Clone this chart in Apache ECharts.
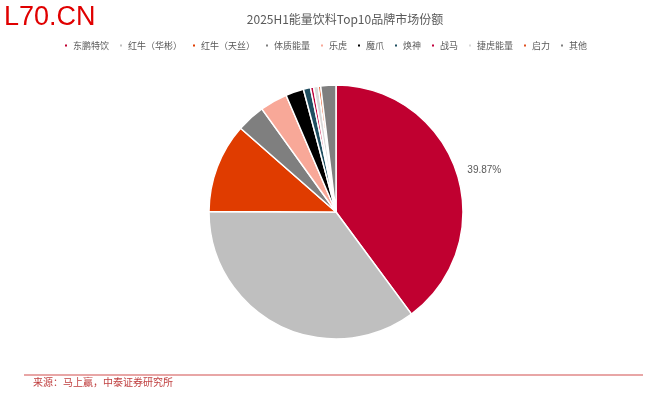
<!DOCTYPE html>
<html><head><meta charset="utf-8">
<script src="https://cdn.jsdelivr.net/npm/echarts@6/dist/echarts.min.js"></script>
<style>html,body{margin:0;padding:0;background:#fff}#c{width:650px;height:405px}</style>
</head><body><div id="c"></div>
<script>
var brands = ['东鹏特饮','红牛（华彬）','红牛（天丝）','体质能量','乐虎','魔爪','焕神','战马','捷虎能量','启力','其他'];
var shares = [39.87,35.2,11.4,3.6,3.5,2.3,0.9,0.4,0.6,0.3,1.93];
var colors = ['#C00030','#BFBFBF','#E03C00','#7F7F7F','#F8A898','#000000','#1F4E60','#C0003C','#D9D9D9','#E05020','#7F7F7F'];
var chart = echarts.init(document.getElementById('c'));
chart.setOption({
  animation:false,
  title:{text:'2025H1能量饮料Top10品牌市场份额',left:340,top:8,textAlign:'center',
    textStyle:{fontSize:12,fontWeight:'normal',color:'#595959',fontFamily:'Noto Sans CJK SC'}},
  legend:{top:36,left:'center',itemWidth:4,itemHeight:4,itemGap:9,icon:'rect',
    textStyle:{fontSize:9,color:'#595959',fontFamily:'Noto Sans CJK SC'}},
  graphic:[
    {type:'text',left:4,top:4,style:{text:'L70.CN',fontSize:27,fill:'#E00000',fontFamily:'Liberation Sans'}},
    {type:'line',shape:{x1:24,y1:375,x2:643,y2:375},style:{stroke:'#E08888',lineWidth:1.5}},
    {type:'text',left:33,top:377,style:{text:'来源：马上赢，中泰证券研究所',fontSize:10,fill:'#C04040',fontFamily:'Noto Sans CJK SC'}}
  ],
  series:[{
    type:'pie',center:[336,212],radius:[0,127],startAngle:90,clockwise:true,
    itemStyle:{borderColor:'#fff',borderWidth:1.5},
    data:brands.map(function(b,i){return {name:b,value:shares[i],itemStyle:{color:colors[i]},
      label:{show:i===0}};}),
    label:{position:'outside',formatter:function(p){return p.value.toFixed(2)+'%';},fontSize:10,color:'#595959',fontFamily:'Liberation Sans'},
    labelLine:{show:false,length:6,length2:0}
  }]
});
</script></body></html>
